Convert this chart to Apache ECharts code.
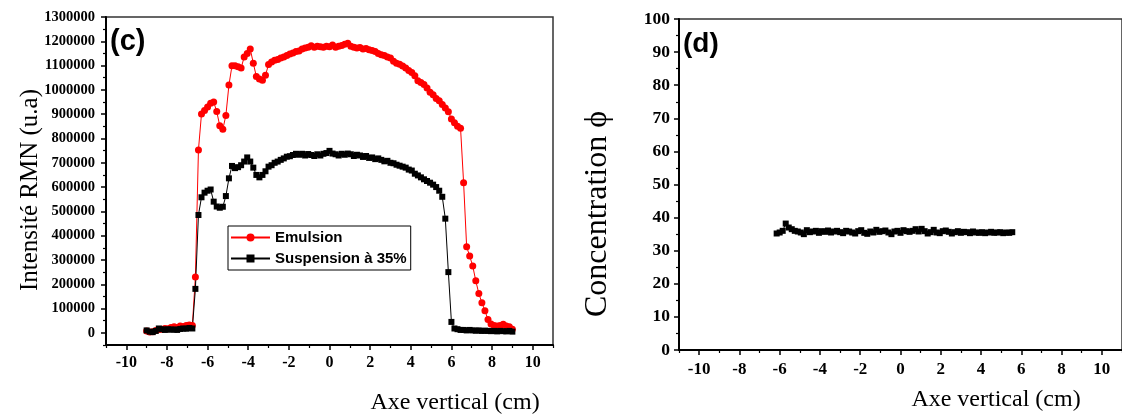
<!DOCTYPE html>
<html>
<head>
<meta charset="utf-8">
<script src="https://cdn.jsdelivr.net/npm/echarts@6/dist/echarts.min.js"></script>
<style>
html,body{margin:0;padding:0;background:#fff;}
#chart{width:1122px;height:417px;}
</style>
</head>
<body>
<div id="chart"></div>
<script>
// ---- data ----
const positions = [
  -9,-8.85,-8.7,-8.55,-8.4,-8.25,-8.1,-7.95,-7.8,-7.65,
  -7.5,-7.35,-7.2,-7.05,-6.9,-6.75,-6.6,-6.45,-6.3,-6.15,
  -6,-5.85,-5.7,-5.55,-5.4,-5.25,-5.1,-4.95,-4.8,-4.65,
  -4.5,-4.35,-4.2,-4.05,-3.9,-3.75,-3.6,-3.45,-3.3,-3.15,
  -3,-2.85,-2.7,-2.55,-2.4,-2.25,-2.1,-1.95,-1.8,-1.65,
  -1.5,-1.35,-1.2,-1.05,-0.9,-0.75,-0.6,-0.45,-0.3,-0.15,
  0,0.15,0.3,0.45,0.6,0.75,0.9,1.05,1.2,1.35,
  1.5,1.65,1.8,1.95,2.1,2.25,2.4,2.55,2.7,2.85,
  3,3.15,3.3,3.45,3.6,3.75,3.9,4.05,4.2,4.35,
  4.5,4.65,4.8,4.95,5.1,5.25,5.4,5.55,5.7,5.85,
  6,6.15,6.3,6.45,6.6,6.75,6.9,7.05,7.2,7.35,
  7.5,7.65,7.8,7.95,8.1,8.25,8.4,8.55,8.7,8.85,
  9
];
const emulsion = [
  8000,4000,5000,10000,14000,15000,18000,17000,22000,25000,
  22000,28000,26000,30000,32000,30000,230000,753000,901000,915000,
  930000,945000,950000,911000,852000,838000,895000,1020000,1099000,1099000,
  1095000,1090000,1135000,1150000,1168000,1110000,1055000,1045000,1040000,1060000,
  1105000,1115000,1122000,1125000,1131000,1135000,1142000,1148000,1152000,1158000,
  1160000,1168000,1172000,1176000,1182000,1175000,1180000,1178000,1176000,1180000,
  1178000,1185000,1176000,1180000,1183000,1188000,1192000,1180000,1176000,1172000,
  1174000,1168000,1170000,1165000,1162000,1158000,1150000,1145000,1142000,1135000,
  1131000,1118000,1110000,1106000,1098000,1090000,1080000,1072000,1058000,1038000,
  1030000,1022000,1008000,990000,980000,965000,955000,940000,925000,910000,
  880000,865000,850000,842000,618000,354000,316000,275000,214000,162000,
  124000,91000,55000,36000,30000,28000,30000,35000,28000,25000,
  15000
];
const suspension = [
  10000,5000,3000,8000,18000,15000,12000,15000,13000,14000,
  12000,16000,18000,17000,20000,18000,181000,485000,558000,577000,
  585000,590000,540000,520000,515000,519000,563000,636000,687000,678000,
  682000,690000,705000,722000,705000,680000,650000,640000,650000,665000,
  684000,690000,700000,705000,712000,718000,725000,727000,732000,737000,
  733000,737000,730000,736000,732000,728000,735000,730000,737000,740000,
  749000,738000,735000,730000,737000,733000,738000,735000,728000,733000,
  730000,724000,728000,720000,722000,715000,718000,712000,706000,708000,
  700000,698000,692000,688000,684000,680000,672000,668000,655000,648000,
  640000,632000,625000,618000,610000,600000,585000,560000,470000,250000,
  45000,18000,15000,12000,12000,10000,12000,10000,9000,10000,
  8000,9000,8000,7000,8000,6000,8000,7000,6000,8000,
  5000
];
const concPositions = [
  -6.15,-6,-5.85,-5.7,-5.55,-5.4,-5.25,-5.1,-4.95,-4.8,
  -4.65,-4.5,-4.35,-4.2,-4.05,-3.9,-3.75,-3.6,-3.45,-3.3,
  -3.15,-3,-2.85,-2.7,-2.55,-2.4,-2.25,-2.1,-1.95,-1.8,
  -1.65,-1.5,-1.35,-1.2,-1.05,-0.9,-0.75,-0.6,-0.45,-0.3,
  -0.15,0,0.15,0.3,0.45,0.6,0.75,0.9,1.05,1.2,
  1.35,1.5,1.65,1.8,1.95,2.1,2.25,2.4,2.55,2.7,
  2.85,3,3.15,3.3,3.45,3.6,3.75,3.9,4.05,4.2,
  4.35,4.5,4.65,4.8,4.95,5.1,5.25,5.4,5.55
];
const concentration = [
  35.2,35.5,36.0,38.2,37.0,36.5,36.0,35.8,35.5,35.0,
  36.2,35.6,35.8,36.0,35.4,35.9,35.7,36.1,35.5,35.8,
  36.0,35.6,35.3,36.0,35.8,35.5,35.2,35.9,36.2,35.4,
  35.1,35.8,35.5,36.3,35.7,35.9,36.1,35.5,35.0,35.8,
  36.0,35.4,36.2,35.9,35.7,36.0,36.5,35.8,36.6,35.9,
  35.2,35.6,36.3,35.5,35.3,35.9,36.1,35.7,35.2,35.6,
  35.9,35.4,35.7,35.6,35.3,35.8,35.5,35.4,35.6,35.3,
  35.5,35.7,35.4,35.5,35.6,35.3,35.5,35.4,35.6
];
const xMajorTicks = [-10,-8,-6,-4,-2,0,2,4,6,8,10];
const xMinorTicks = [-11,-9,-7,-5,-3,-1,1,3,5,7,9,11];
const intensityTicks = [0,100000,200000,300000,400000,500000,600000,700000,800000,900000,1000000,1100000,1200000,1300000];
const intensityMinor = [-50000,50000,150000,250000,350000,450000,550000,650000,750000,850000,950000,1050000,1150000,1250000];
const concTicks = [0,10,20,30,40,50,60,70,80,90,100];
const concMinor = [5,15,25,35,45,55,65,75,85,95];
const seriesNames = ['Emulsion','Suspension à 35%'];

// ---- chart ----
const serif = "'Liberation Serif', 'Times New Roman', serif";
const sans = "'Liberation Sans', Arial, sans-serif";
const plain = v => String(v);

function majorX(grid, fs, margin){
  return {gridIndex:grid, type:'value', min:-11, max:11, position:'bottom',
    axisLine:{show:true, onZero:false, lineStyle:{color:'#000', width:2}},
    axisTick:{show:true, customValues:xMajorTicks, length:5, lineStyle:{color:'#000', width:1.5}},
    axisLabel:{show:true, customValues:xMajorTicks, formatter:plain, color:'#000', fontFamily:serif, fontWeight:'bold', fontSize:fs, margin:margin},
    splitLine:{show:false}};
}
function minorX(grid){
  return {gridIndex:grid, type:'value', min:-11, max:11, position:'bottom', offset:0,
    axisLine:{show:false, onZero:false},
    axisTick:{show:true, customValues:xMinorTicks, length:3, lineStyle:{color:'#000', width:1.2}},
    axisLabel:{show:false}, splitLine:{show:false}};
}
function majorY(grid, mn, mx, ticks, fs, margin){
  return {gridIndex:grid, type:'value', min:mn, max:mx, position:'left',
    axisLine:{show:true, onZero:false, lineStyle:{color:'#000', width:2}},
    axisTick:{show:true, customValues:ticks, length:5, lineStyle:{color:'#000', width:1.5}},
    axisLabel:{show:true, customValues:ticks, formatter:plain, color:'#000', fontFamily:serif, fontWeight:'bold', fontSize:fs, margin:margin},
    splitLine:{show:false}};
}
function minorY(grid, mn, mx, ticks){
  return {gridIndex:grid, type:'value', min:mn, max:mx, position:'left', offset:0,
    axisLine:{show:false, onZero:false},
    axisTick:{show:true, customValues:ticks, length:3, lineStyle:{color:'#000', width:1.2}},
    axisLabel:{show:false}, splitLine:{show:false}};
}

const option = {
  animation:false,
  backgroundColor:'#fff',
  grid:[
    {left:106, top:17, width:447, height:328, show:true, borderColor:'#333', borderWidth:1.5, containLabel:false},
    {left:679, top:19, width:447, height:331, show:true, borderColor:'#333', borderWidth:1.5, containLabel:false}
  ],
  xAxis:[ majorX(0,16,10), minorX(0), majorX(1,17,11), minorX(1) ],
  yAxis:[
    majorY(0,-50000,1300000,intensityTicks,14.5,11), minorY(0,-50000,1300000,intensityMinor),
    majorY(1,0,100,concTicks,17.5,9), minorY(1,0,100,concMinor)
  ],
  legend:{
    data:seriesNames, orient:'vertical', left:228, top:226,
    itemWidth:39, itemHeight:10, itemGap:6,
    padding:[4,4,4,2], borderColor:'#000', borderWidth:1, backgroundColor:'#fff',
    textStyle:{fontFamily:sans, fontWeight:'bold', fontSize:15, color:'#000', lineHeight:15}
  },
  series:[
    {name:seriesNames[0], type:'line', xAxisIndex:0, yAxisIndex:0,
      data:positions.map((x,i)=>[x, emulsion[i]]),
      symbol:'circle', symbolSize:7, showAllSymbol:true,
      lineStyle:{color:'#ff0000', width:1}, itemStyle:{color:'#ff0000'}},
    {name:seriesNames[1], type:'line', xAxisIndex:0, yAxisIndex:0,
      data:positions.map((x,i)=>[x, suspension[i]]),
      symbol:'rect', symbolSize:6, showAllSymbol:true,
      lineStyle:{color:'#000', width:1}, itemStyle:{color:'#000'}},
    {name:'Concentration', type:'line', xAxisIndex:2, yAxisIndex:2,
      data:concPositions.map((x,i)=>[x, concentration[i]]),
      symbol:'rect', symbolSize:6, showAllSymbol:true,
      lineStyle:{color:'#000', width:1}, itemStyle:{color:'#000'}}
  ],
  graphic:[
    {type:'text', left:110, top:27, style:{text:'(c)', font:'bold 29px '+sans, fill:'#000'}},
    {type:'text', left:683, top:30, style:{text:'(d)', font:'bold 28px '+sans, fill:'#000'}},
    {type:'text', x:30, y:190, rotation:Math.PI/2,
      style:{text:'Intensité RMN (u.a)', font:'25px '+serif, fill:'#000', textAlign:'center', textVerticalAlign:'middle'}},
    {type:'text', x:598, y:214, rotation:Math.PI/2,
      style:{text:'Concentration ϕ', font:'32px '+serif, fill:'#000', textAlign:'center', textVerticalAlign:'middle'}},
    {type:'text', x:455, y:403,
      style:{text:'Axe vertical (cm)', font:'24px '+serif, fill:'#000', textAlign:'center', textVerticalAlign:'middle'}},
    {type:'text', x:996, y:400,
      style:{text:'Axe vertical (cm)', font:'24px '+serif, fill:'#000', textAlign:'center', textVerticalAlign:'middle'}}
  ]
};
const chart = echarts.init(document.getElementById('chart'), null, {renderer:'canvas'});
chart.setOption(option);
</script>
</body>
</html>
